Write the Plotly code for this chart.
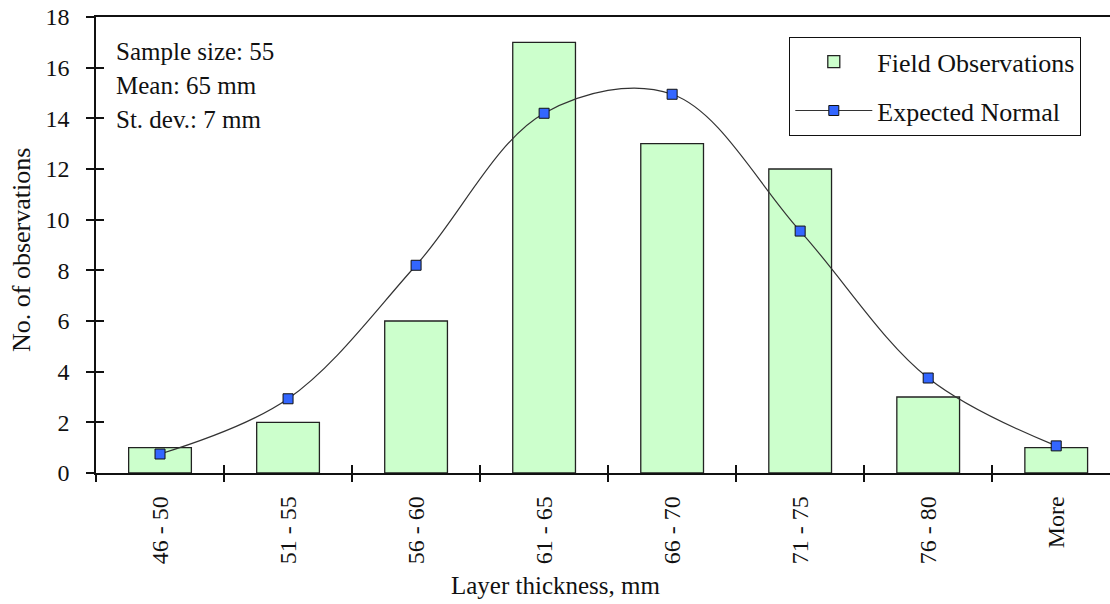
import plotly.graph_objects as go

categories = ["46 - 50", "51 - 55", "56 - 60", "61 - 65", "66 - 70", "71 - 75", "76 - 80", "More"]
observed = [1, 2, 6, 17, 13, 12, 3, 1]
expected = [0.75, 2.93, 8.2, 14.2, 14.95, 9.55, 3.75, 1.07]
info_lines = ["Sample size: 55", "Mean: 65 mm", "St. dev.: 7 mm"]

FONT = "Liberation Serif, Times New Roman, serif"
TICK_FS = 24
TEXT_FS = 25
idx = list(range(len(categories)))
bounds = [i - 0.5 for i in range(len(categories) + 1)]
xr = [-0.5, 7.42]
yr = [0, 18]

W, H = 1110, 604
ML, MT = 96, 17
PW, PH = 1014, 456
MB = H - MT - PH


def px2paper_x(px):
    return (px - ML) / PW


def px2paper_y(py):
    return (MT + PH - py) / PH


fig = go.Figure()
fig.add_trace(go.Bar(
    x=idx, y=observed, width=0.49, name="Field Observations",
    marker=dict(color="#CCFFCC", line=dict(color="#222222", width=1.3)),
    legendgroup="a",
))
fig.add_trace(go.Scatter(
    x=idx, y=expected, mode="lines+markers", name="Expected Normal",
    line=dict(color="#333333", width=1.2, shape="spline", smoothing=1.0),
    marker=dict(symbol="square", size=10, color="#3366FF", line=dict(color="#111111", width=1)),
    legendgroup="b",
))

fig.update_layout(
    width=W, height=H,
    margin=dict(l=ML, r=0, t=MT, b=MB),
    paper_bgcolor="white", plot_bgcolor="white",
    font=dict(family=FONT, size=TICK_FS, color="#111111"),
    showlegend=True,
    legend=dict(
        x=px2paper_x(789), y=px2paper_y(37), xanchor="left", yanchor="top",
        bordercolor="#111111", borderwidth=1.3, bgcolor="white",
        font=dict(family=FONT, size=TEXT_FS + 1, color="#111111"),
        traceorder="grouped", tracegroupgap=12, itemwidth=77,
    ),
    xaxis=dict(
        range=xr, tickmode="array", tickvals=idx, ticktext=categories,
        tickangle=-90, ticks="outside", ticklen=12, tickcolor="rgba(0,0,0,0)",
        tickfont=dict(size=TICK_FS),
        showline=True, linecolor="#111111", linewidth=1.5, mirror=True,
        showgrid=False, zeroline=False, fixedrange=True,
    ),
    xaxis2=dict(
        range=xr, overlaying="x", anchor="y", side="bottom",
        tickmode="array", tickvals=bounds, ticks="outside", ticklen=8,
        tickcolor="#111111", tickwidth=1.5, showticklabels=False,
        showline=False, showgrid=False, zeroline=False,
    ),
    xaxis3=dict(
        range=xr, overlaying="x", anchor="y", side="bottom",
        tickmode="array", tickvals=bounds, ticks="inside", ticklen=8,
        tickcolor="#111111", tickwidth=1.5, showticklabels=False,
        showline=False, showgrid=False, zeroline=False,
    ),
    yaxis=dict(
        range=yr, dtick=2, ticks="outside", ticklen=8, tickcolor="#111111", tickwidth=1.5,
        ticklabelstandoff=12, tickfont=dict(size=TICK_FS),
        showline=True, linecolor="#111111", linewidth=1.5,
        showgrid=False, zeroline=False, fixedrange=True,
    ),
    yaxis2=dict(
        range=yr, dtick=2, overlaying="y", anchor="x", side="left",
        ticks="inside", ticklen=8, tickcolor="#111111", tickwidth=1.5,
        showticklabels=False, showline=False, showgrid=False, zeroline=False,
    ),
)

# invisible traces to activate overlay axes
fig.add_trace(go.Scatter(x=[None], y=[None], xaxis="x2", yaxis="y", showlegend=False, hoverinfo="skip"))
fig.add_trace(go.Scatter(x=[None], y=[None], xaxis="x3", yaxis="y2", showlegend=False, hoverinfo="skip"))

for t, yp in zip(info_lines, [51, 86, 119]):
    fig.add_annotation(text=t, xref="paper", yref="paper", x=px2paper_x(114), y=px2paper_y(yp),
                       xanchor="left", yanchor="middle", showarrow=False,
                       font=dict(family=FONT, size=TEXT_FS, color="#111111"))

fig.add_annotation(text="Layer thickness, mm", xref="paper", yref="paper",
                   x=px2paper_x(556), y=px2paper_y(585),
                   xanchor="center", yanchor="middle", showarrow=False,
                   font=dict(family=FONT, size=TEXT_FS, color="#111111"))
fig.add_annotation(text="No. of observations", xref="paper", yref="paper",
                   x=px2paper_x(21), y=px2paper_y(250), textangle=-90,
                   xanchor="center", yanchor="middle", showarrow=False,
                   font=dict(family=FONT, size=TEXT_FS + 1, color="#111111"))

fig.write_html("out.html", config={"displayModeBar": False},
               post_script="document.body.style.margin='0';")
